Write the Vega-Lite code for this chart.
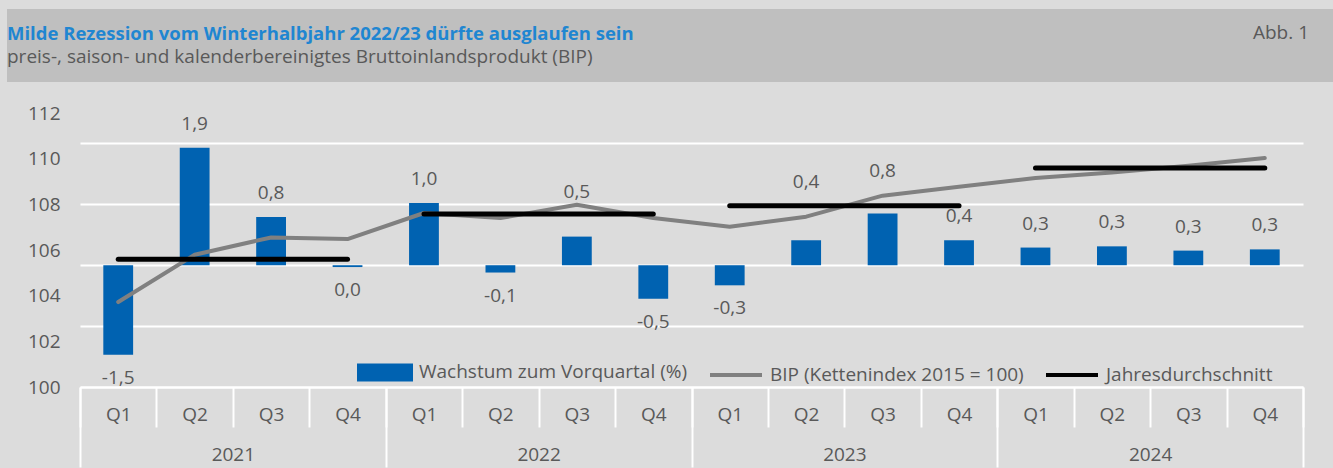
{
  "$schema": "https://vega.github.io/schema/vega-lite/v6.json",
  "background": "#dcdcdc",
  "padding": {"left": 7, "top": 9, "right": 0, "bottom": 0},
  "datasets": {
    "q": [
      {"id": "2021-Q1", "year": "2021", "pct": -1.47, "bip": 103.72, "label": "-1,5"},
      {"id": "2021-Q2", "year": "2021", "pct": 1.93, "bip": 105.79, "label": "1,9"},
      {"id": "2021-Q3", "year": "2021", "pct": 0.79, "bip": 106.55, "label": "0,8"},
      {"id": "2021-Q4", "year": "2021", "pct": -0.03, "bip": 106.48, "label": "0,0"},
      {"id": "2022-Q1", "year": "2022", "pct": 1.02, "bip": 107.62, "label": "1,0"},
      {"id": "2022-Q2", "year": "2022", "pct": -0.12, "bip": 107.40, "label": "-0,1"},
      {"id": "2022-Q3", "year": "2022", "pct": 0.47, "bip": 107.98, "label": "0,5"},
      {"id": "2022-Q4", "year": "2022", "pct": -0.55, "bip": 107.40, "label": "-0,5"},
      {"id": "2023-Q1", "year": "2023", "pct": -0.33, "bip": 107.02, "label": "-0,3"},
      {"id": "2023-Q2", "year": "2023", "pct": 0.41, "bip": 107.46, "label": "0,4"},
      {"id": "2023-Q3", "year": "2023", "pct": 0.85, "bip": 108.38, "label": "0,8"},
      {"id": "2023-Q4", "year": "2023", "pct": 0.41, "bip": 108.77, "label": "0,4"},
      {"id": "2024-Q1", "year": "2024", "pct": 0.29, "bip": 109.15, "label": "0,3"},
      {"id": "2024-Q2", "year": "2024", "pct": 0.31, "bip": 109.39, "label": "0,3"},
      {"id": "2024-Q3", "year": "2024", "pct": 0.24, "bip": 109.69, "label": "0,3"},
      {"id": "2024-Q4", "year": "2024", "pct": 0.26, "bip": 110.03, "label": "0,3"}
    ],
    "avg": [
      {"year": "2021", "start": "2021-Q1", "end": "2021-Q4", "avg": 105.6},
      {"year": "2022", "start": "2022-Q1", "end": "2022-Q4", "avg": 107.58},
      {"year": "2023", "start": "2023-Q1", "end": "2023-Q4", "avg": 107.94},
      {"year": "2024", "start": "2024-Q1", "end": "2024-Q4", "avg": 109.59}
    ]
  },
  "title": {
    "text": "Abb. 1",
    "anchor": "end",
    "orient": "top",
    "offset": -34,
    "dx": -24,
    "font": "Open Sans",
    "fontSize": 19,
    "fontWeight": "normal",
    "color": "#595959"
  },
  "spacing": 22,
  "vconcat": [
    {
      "width": 1326,
      "height": 73,
      "view": {"fill": "#bfbfbf", "stroke": null},
      "title": {
        "text": " Milde Rezession vom Winterhalbjahr 2022/23 dürfte ausglaufen sein",
        "subtitle": " preis-, saison- und kalenderbereinigtes Bruttoinlandsprodukt (BIP)",
        "anchor": "start",
        "frame": "group",
        "orient": "top",
        "offset": -58,
        "font": "Open Sans",
        "fontSize": 18.5,
        "fontWeight": "bold",
        "color": "#1f86d1",
        "subtitleFont": "Open Sans",
        "subtitleFontSize": 19,
        "subtitleColor": "#595959",
        "subtitlePadding": 5
      },
      "data": {"values": [{"t": ""}]},
      "mark": {"type": "text", "text": ""},
      "encoding": {}
    },
    {
      "width": 1296,
      "height": 274,
      "view": {"stroke": null},
      "resolve": {"scale": {"x": "independent", "y": "independent"}},
      "layer": [
        {
          "data": {"name": "q"},
          "layer": [
            {
              "mark": {"type": "bar", "width": {"band": 0.39}},
              "encoding": {
                "x": {
                  "field": "id", "type": "nominal", "sort": null,
                  "scale": {"paddingInner": 0, "paddingOuter": 0, "range": [73, 1296],
                    "domain": ["2021-Q1","2021-Q2","2021-Q3","2021-Q4","2022-Q1","2022-Q2","2022-Q3","2022-Q4","2023-Q1","2023-Q2","2023-Q3","2023-Q4","2024-Q1","2024-Q2","2024-Q3","2024-Q4"]},
                  "axis": {
                    "orient": "bottom", "title": null, "labelAngle": 0,
                    "labelExpr": "slice(datum.label + '', 5)",
                    "labelFont": "Open Sans", "labelFontSize": 19, "labelColor": "#595959",
                    "labelBaseline": "middle", "labelPadding": -13,
                    "tickBand": "extent", "tickSize": 40, "tickColor": "#ffffff", "tickWidth": 2,
                    "domainColor": "#ffffff", "domainWidth": 2, "grid": false
                  }
                },
                "y": {
                  "field": "pct", "type": "quantitative",
                  "scale": {"domain": [-2, 2.5], "nice": false, "zero": false},
                  "axis": {
                    "orient": "left", "title": null, "offset": -73,
                    "values": [-2, -1.5, -1, -0.5, 0, 0.5, 1, 1.5, 2, 2.5],
                    "grid": true, "gridColor": "#ffffff", "gridWidth": 2, "gridOpacity": 1,
                    "labels": false, "ticks": false, "domain": false
                  }
                },
                "color": {
                  "datum": "Wachstum zum Vorquartal (%)",
                  "scale": {
                    "domain": ["Wachstum zum Vorquartal (%)", "BIP (Kettenindex 2015 = 100)", "Jahresdurchschnitt"],
                    "range": ["#0062b1", "#808080", "#000000"]
                  },
                  "legend": {
                    "orient": "none", "legendX": 350, "legendY": 335,
                    "direction": "horizontal", "title": null, "padding": 0,
                    "labelFont": "Open Sans", "labelFontSize": 19, "labelColor": "#595959",
                    "labelLimit": 500, "labelOffset": 6, "columnPadding": 14,
                    "symbolSize": 2704,
                    "encode": {
                      "symbols": {
                        "update": {
                          "shape": {"signal": "datum.value === 'Wachstum zum Vorquartal (%)' ? 'M-1,-0.27H1V0.27H-1Z' : 'M-1,0H1'"},
                          "fill": {"signal": "datum.value === 'Wachstum zum Vorquartal (%)' ? '#0062b1' : 'transparent'"},
                          "stroke": {"signal": "datum.value === 'Wachstum zum Vorquartal (%)' ? 'transparent' : (datum.value === 'Jahresdurchschnitt' ? '#000000' : '#808080')"},
                          "strokeWidth": {"value": 4},
                          "opacity": {"value": 1}
                        }
                      }
                    }
                  }
                }
              }
            },
            {
              "transform": [{"filter": "datum.pct > 0 && indexof(['2022-Q3','2023-Q2','2023-Q3'], datum.id) < 0"}],
              "mark": {"type": "text", "dy": -24, "baseline": "middle", "font": "Open Sans", "fontSize": 19, "color": "#595959"},
              "encoding": {"x": {"field": "id", "type": "nominal", "sort": null}, "y": {"field": "pct", "type": "quantitative"}, "text": {"field": "label"}}
            },
            {
              "transform": [{"filter": "datum.pct <= 0"}],
              "mark": {"type": "text", "dy": 23, "baseline": "middle", "font": "Open Sans", "fontSize": 19, "color": "#595959"},
              "encoding": {"x": {"field": "id", "type": "nominal", "sort": null}, "y": {"field": "pct", "type": "quantitative"}, "text": {"field": "label"}}
            },
            {
              "transform": [{"filter": "datum.id === '2022-Q3'"}],
              "mark": {"type": "text", "dy": -45, "baseline": "middle", "font": "Open Sans", "fontSize": 19, "color": "#595959"},
              "encoding": {"x": {"field": "id", "type": "nominal", "sort": null}, "y": {"field": "pct", "type": "quantitative"}, "text": {"field": "label"}}
            },
            {
              "transform": [{"filter": "datum.id === '2023-Q2'"}],
              "mark": {"type": "text", "dy": -58, "baseline": "middle", "font": "Open Sans", "fontSize": 19, "color": "#595959"},
              "encoding": {"x": {"field": "id", "type": "nominal", "sort": null}, "y": {"field": "pct", "type": "quantitative"}, "text": {"field": "label"}}
            },
            {
              "transform": [{"filter": "datum.id === '2023-Q3'"}],
              "mark": {"type": "text", "dy": -42, "baseline": "middle", "font": "Open Sans", "fontSize": 19, "color": "#595959"},
              "encoding": {"x": {"field": "id", "type": "nominal", "sort": null}, "y": {"field": "pct", "type": "quantitative"}, "text": {"field": "label"}}
            }
          ]
        },
        {
          "layer": [
            {
              "data": {"name": "q"},
              "mark": {"type": "line", "strokeWidth": 4, "strokeCap": "round", "strokeJoin": "round"},
              "encoding": {
                "x": {
                  "field": "id", "type": "nominal", "sort": null,
                  "scale": {"paddingInner": 0, "paddingOuter": 0, "range": [73, 1296],
                    "domain": ["2021-Q1","2021-Q2","2021-Q3","2021-Q4","2022-Q1","2022-Q2","2022-Q3","2022-Q4","2023-Q1","2023-Q2","2023-Q3","2023-Q4","2024-Q1","2024-Q2","2024-Q3","2024-Q4"]},
                  "axis": null
                },
                "y": {
                  "field": "bip", "type": "quantitative",
                  "scale": {"domain": [100, 112], "nice": false, "zero": false},
                  "axis": {
                    "orient": "left", "title": null, "offset": -73,
                    "values": [100, 102, 104, 106, 108, 110, 112],
                    "grid": false, "ticks": false, "domain": false,
                    "labelFont": "Open Sans", "labelFontSize": 19, "labelColor": "#595959",
                    "labelPadding": 20, "minExtent": 0
                  }
                },
                "color": {
                  "datum": "BIP (Kettenindex 2015 = 100)",
                  "scale": {
                    "domain": ["Wachstum zum Vorquartal (%)", "BIP (Kettenindex 2015 = 100)", "Jahresdurchschnitt"],
                    "range": ["#0062b1", "#808080", "#000000"]
                  }
                }
              }
            },
            {
              "data": {"name": "avg"},
              "mark": {"type": "rule", "strokeWidth": 5, "strokeCap": "round"},
              "encoding": {
                "x": {"field": "start", "type": "nominal", "sort": null},
                "x2": {"field": "end"},
                "y": {"field": "avg", "type": "quantitative"},
                "color": {
                  "datum": "Jahresdurchschnitt",
                  "scale": {
                    "domain": ["Wachstum zum Vorquartal (%)", "BIP (Kettenindex 2015 = 100)", "Jahresdurchschnitt"],
                    "range": ["#0062b1", "#808080", "#000000"]
                  }
                }
              }
            }
          ]
        },
        {
          "data": {"name": "q"},
          "mark": {"type": "rule", "opacity": 0},
          "encoding": {
            "x": {
              "field": "year", "type": "nominal", "sort": null,
              "scale": {"paddingInner": 0, "paddingOuter": 0, "range": [73, 1296]},
              "axis": {
                "orient": "bottom", "title": null, "labelAngle": 0, "domain": false, "grid": false,
                "labelFont": "Open Sans", "labelFontSize": 19, "labelColor": "#595959",
                "labelBaseline": "middle", "labelPadding": -13,
                "tickBand": "extent", "tickSize": 80, "tickColor": "#ffffff", "tickWidth": 2
              }
            }
          }
        }
      ]
    }
  ],
  "config": {
    "view": {"stroke": null},
    "font": "Open Sans",
    "legend": {"padding": 0}
  }
}
